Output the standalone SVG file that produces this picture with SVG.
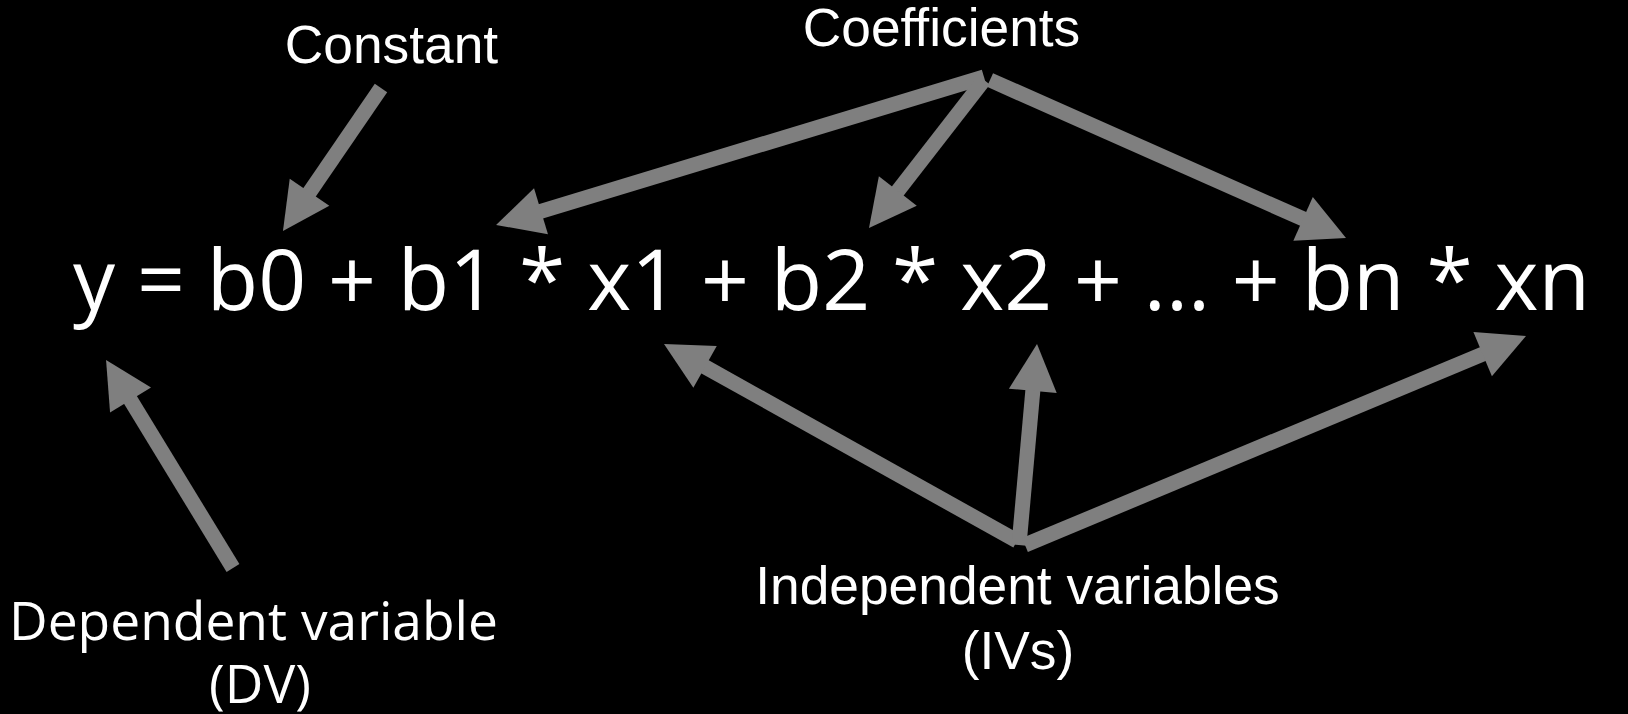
<svg xmlns="http://www.w3.org/2000/svg" width="1628" height="714" viewBox="0 0 1628 714">
  <style>
    .lbl { font-family: "Liberation Sans", Arial, sans-serif; font-size: 53.3px; fill: #ffffff; text-anchor: middle; }
    .lbl2 { font-family: "Open Sans", "Noto Sans", sans-serif; font-size: 53.3px; fill: #ffffff; text-anchor: middle; }
    .eq { font-family: "Open Sans", "Noto Sans", sans-serif; font-size: 84px; fill: #ffffff; }
    .arr { stroke: #7f7f7f; stroke-width: 15; fill: none; marker-end: url(#head); }
  </style>
  <defs>
    <marker id="head" markerUnits="userSpaceOnUse" markerWidth="48" markerHeight="48" refX="2" refY="24" orient="auto" overflow="visible">
      <path d="M0,0 L47,24 L0,48 Z" fill="#7f7f7f"/>
    </marker>
  </defs>
  <rect x="0" y="0" width="1628" height="714" fill="#000000"/>
  <g id="equation">
    <text class="eq" x="73" y="310">y = b0 + b1 * x1 + b2 * x2 + ... + bn * xn</text>
  </g>
  <g id="constant">
    <text class="lbl" x="391.5" y="63">Constant</text>
  </g>
  <g id="coefficients">
    <text class="lbl" x="941.5" y="46">Coefficients</text>
  </g>
  <g id="dependent">
    <text class="lbl2" x="253.5" y="640">Dependent variable</text>
    <text class="lbl2" x="260" y="703">(DV)</text>
  </g>
  <g id="independent">
    <text class="lbl" x="1017.5" y="604">Independent variables</text>
    <text class="lbl" x="1018" y="669">(IVs)</text>
  </g>
  <g id="connectors">
    <line class="arr" x1="381" y1="88" x2="308.4" y2="193.9"/>
    <line class="arr" x1="984" y1="77" x2="539.1" y2="211.9"/>
    <line class="arr" x1="984" y1="80" x2="896.6" y2="192.5"/>
    <line class="arr" x1="990" y1="80" x2="1304.9" y2="219.7"/>
    <line class="arr" x1="233" y1="568" x2="129.5" y2="398.4"/>
    <line class="arr" x1="1017" y1="541" x2="703.3" y2="365.9"/>
    <line class="arr" x1="1019" y1="545" x2="1033.0" y2="388.8"/>
    <line class="arr" x1="1025" y1="545" x2="1484.5" y2="353.3"/>
  </g>
</svg>
